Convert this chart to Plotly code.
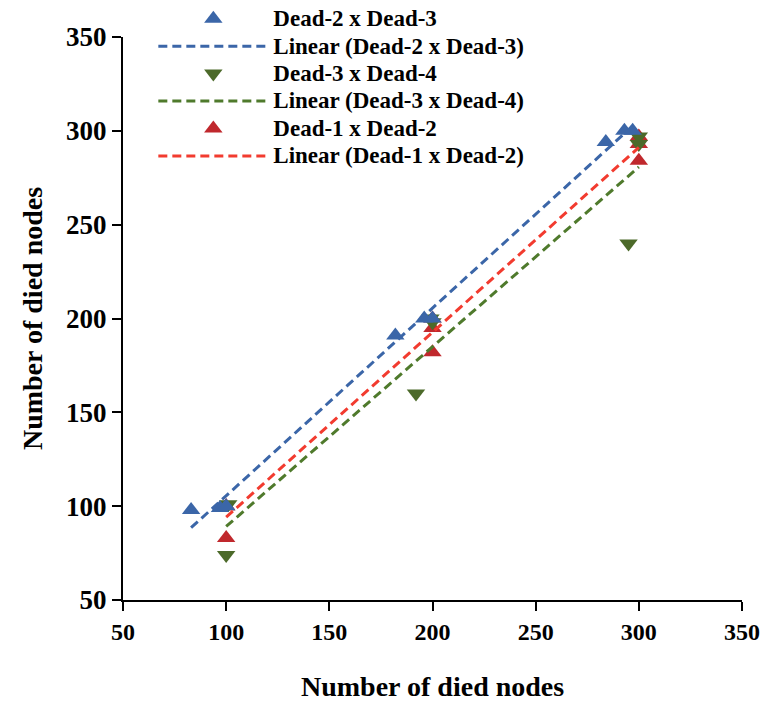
import numpy as np
import plotly.graph_objects as go

# Died-node counts, pairwise between rounds
dead2_x = [83, 97, 100, 182, 196, 200, 284, 293, 297]
dead3_y = [98, 99, 100, 191, 200, 200, 294, 300, 300]

dead3_x = [100, 101, 192, 199, 200, 295, 300, 300]
dead4_y = [74, 101, 160, 200, 198, 240, 297, 293]

dead1_x = [100, 100, 100, 200, 200, 200, 300, 300, 300]
dead2_y = [83, 100, 100, 182, 195, 200, 284, 293, 297]

axis_ticks = [50, 100, 150, 200, 250, 300, 350]
axis_title = "Number of died nodes"

# name, x, y, symbol, marker colour, trend colour, legend rank
series = [
    ("Dead-1 x Dead-2", dead1_x, dead2_y, "triangle-up", "#c0282d", "#f23b2f", 5),
    ("Dead-3 x Dead-4", dead3_x, dead4_y, "triangle-down", "#4c6a2a", "#4f7a2c", 3),
    ("Dead-2 x Dead-3", dead2_x, dead3_y, "triangle-up", "#3b66a8", "#3b66a8", 1),
]

FONT = "Liberation Serif"


def legend_label(text):
    # larger glyphs than the legend's row pitch font
    return f'<span style="font-size:23px">{text}</span>'


fig = go.Figure()
for name, xs, ys, sym, mcol, lcol, rank in series:
    fig.add_trace(go.Scatter(
        x=xs, y=ys, mode="markers", name=legend_label(name), legendrank=rank,
        marker=dict(symbol=sym, size=16, color=mcol),
    ))
for name, xs, ys, sym, mcol, lcol, rank in series:
    xa = np.asarray(xs, dtype=float)
    ya = np.asarray(ys, dtype=float)
    slope, icpt = np.polyfit(xa, ya, 1)
    fx = np.array([xa.min(), xa.max()])
    fig.add_trace(go.Scatter(
        x=fx, y=slope * fx + icpt, mode="lines",
        name=legend_label(f"Linear ({name})"), legendrank=rank + 1,
        line=dict(color=lcol, width=3, dash="9px,5px"),
    ))

axis_common = dict(
    tickvals=axis_ticks, showgrid=False, zeroline=False, automargin=False,
    showline=True, linecolor="black", linewidth=2,
    ticks="outside", ticklen=9, tickwidth=2, tickcolor="black",
)

fig.update_layout(
    width=767, height=701,
    margin=dict(l=123, r=25, t=37, b=101, autoexpand=False),
    paper_bgcolor="white", plot_bgcolor="white",
    font=dict(family=FONT, color="black"),
    xaxis=dict(range=[50, 350], **axis_common,
               tickfont=dict(family=FONT, size=24, weight="bold", color="black")),
    yaxis=dict(range=[50, 350], **axis_common,
               tickfont=dict(family=FONT, size=27, weight="bold", color="black"),
               title=dict(text=axis_title,
                          font=dict(family=FONT, size=28, weight="bold"))),
    legend=dict(
        x=0.049, y=1.0, xref="paper", yref="container",
        xanchor="left", yanchor="top",
        bgcolor="rgba(0,0,0,0)", itemwidth=110, tracegroupgap=0,
        font=dict(family=FONT, size=18.8, weight="bold", color="black"),
    ),
    annotations=[dict(
        text=axis_title, xref="paper", yref="paper", x=0.5, y=-0.1545,
        xanchor="center", yanchor="middle", showarrow=False,
        font=dict(family=FONT, size=28, weight="bold", color="black"),
    )],
)

fig.write_html("out.html")
